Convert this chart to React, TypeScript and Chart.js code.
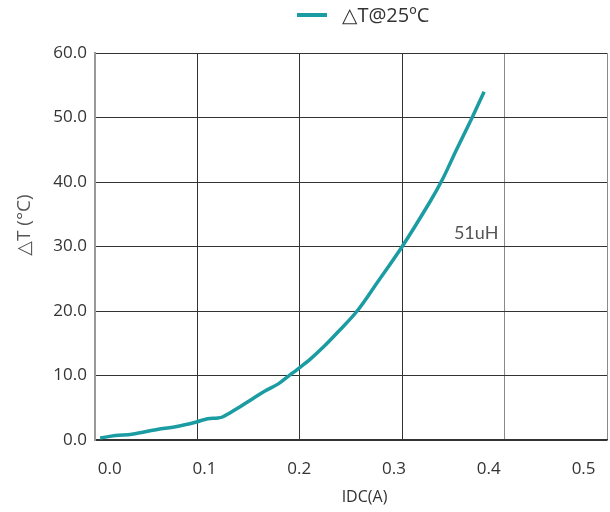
import React, { useEffect, useRef } from "react";
import { Chart, registerables } from "chart.js";

Chart.register(...registerables);

// ---- data ----
const currentA = [
  0.005, 0.02, 0.036, 0.063, 0.08, 0.099, 0.11, 0.12, 0.125, 0.138, 0.154, 0.166, 0.179,
  0.188, 0.198, 0.21, 0.223, 0.237, 0.256, 0.276, 0.3, 0.327, 0.339, 0.353, 0.368, 0.38,
];
const deltaT = [
  0.3, 0.7, 0.9, 1.7, 2.1, 2.8, 3.3, 3.4, 3.6, 4.8, 6.4, 7.6, 8.7, 9.8, 11.0, 12.5, 14.4,
  16.7, 20.0, 24.5, 30.0, 36.9, 40.3, 45.0, 49.9, 54.0,
];
const xTickValues = [0, 0.1, 0.2, 0.3, 0.4, 0.5];
const yTickValues = [0, 10, 20, 30, 40, 50, 60];
const seriesName = "△T@25ºC";
const xTitle = "IDC(A)";
const yTitle = "△T (°C)";
const curveLabel = "51uH";

const TEAL = "#1A9CA2";
const FONT = "'Open Sans', 'DejaVu Sans', sans-serif";

export default function App() {
  const ref = useRef<HTMLCanvasElement | null>(null);

  useEffect(() => {
    if (!ref.current) return;

    const overlay = {
      id: "overlay",
      afterDraw(chart: any) {
        const { ctx, scales } = chart;
        ctx.save();
        // legend
        ctx.strokeStyle = TEAL;
        ctx.lineWidth = 4;
        ctx.beginPath();
        ctx.moveTo(297, 15);
        ctx.lineTo(327, 15);
        ctx.stroke();
        ctx.fillStyle = "#333";
        ctx.font = `20px ${FONT}`;
        ctx.textAlign = "left";
        ctx.textBaseline = "middle";
        ctx.fillText(seriesName, 342, 16);
        // x title
        ctx.font = `16px ${FONT}`;
        ctx.textAlign = "center";
        ctx.fillText(xTitle, 364.5, 497);
        // y title
        ctx.save();
        ctx.translate(25, 225);
        ctx.rotate(-Math.PI / 2);
        ctx.fillStyle = "#555";
        ctx.font = `19px ${FONT}`;
        ctx.fillText(yTitle, 0, 0);
        ctx.restore();
        // curve label
        ctx.fillStyle = "#555";
        ctx.font = `18px Lato, ${FONT}`;
        ctx.textAlign = "right";
        ctx.fillText(curveLabel, scales.x.getPixelForValue(0.394), scales.y.getPixelForValue(32));
        ctx.restore();
      },
    };

    const chart = new Chart(ref.current, {
      type: "line",
      data: {
        datasets: [
          {
            label: seriesName,
            data: currentA.map((x, i) => ({ x, y: deltaT[i] })),
            borderColor: TEAL,
            backgroundColor: TEAL,
            borderWidth: 3.5,
            pointRadius: 0,
            tension: 0.35,
            xAxisID: "x",
            yAxisID: "y",
          },
        ],
      },
      options: {
        animation: false,
        responsive: false,
        devicePixelRatio: 1,
        layout: { padding: { top: 53, right: 3, left: 0, bottom: 0 } },
        plugins: {
          legend: { display: false },
          tooltip: { enabled: false },
        },
        scales: {
          x: {
            type: "linear",
            position: "bottom",
            weight: 0,
            min: 0,
            max: 0.5,
            afterBuildTicks: (s: any) => {
              s.ticks = xTickValues.map((v) => ({ value: v }));
            },
            afterFit: (s: any) => {
              s.height = 0;
            },
            ticks: { display: false },
            grid: {
              drawTicks: false,
              lineWidth: 1,
              color: (c: any) =>
                c.index === 0 ? "rgba(0,0,0,0)" : c.index >= 4 ? "#8a8a8a" : "#333",
            },
            border: { display: true, color: "#333", width: 1.5 },
          },
          x2: {
            type: "linear",
            position: "bottom",
            weight: 1,
            min: -0.0155,
            max: 0.5247,
            afterBuildTicks: (s: any) => {
              s.ticks = xTickValues.map((v) => ({ value: v }));
            },
            afterFit: (s: any) => {
              s.height = 72;
            },
            grid: {
              display: true,
              drawOnChartArea: false,
              drawTicks: true,
              tickLength: 19,
              color: "rgba(0,0,0,0)",
            },
            border: { display: false },
            ticks: {
              padding: 0,
              color: "#333",
              font: { size: 17, family: FONT },
              maxRotation: 0,
              callback: (v: any) => Number(v).toFixed(1),
            },
          },
          y: {
            type: "linear",
            min: 0,
            max: 60,
            afterBuildTicks: (s: any) => {
              s.ticks = yTickValues.map((v) => ({ value: v }));
            },
            afterFit: (s: any) => {
              s.width = 95;
            },
            ticks: {
              padding: 8,
              color: "#333",
              font: { size: 17, family: FONT },
              callback: (v: any) => Number(v).toFixed(1),
            },
            grid: { drawTicks: false, color: "#333", lineWidth: 1 },
            border: { display: true, color: "#999", width: 2 },
          },
        },
      },
      plugins: [overlay],
    } as any);

    return () => chart.destroy();
  }, []);

  return (
    <div style={{ position: "fixed", left: 0, top: 0, width: 610, height: 512, background: "#fff" }}>
      <canvas ref={ref} width={610} height={512} style={{ display: "block" }} />
    </div>
  );
}
